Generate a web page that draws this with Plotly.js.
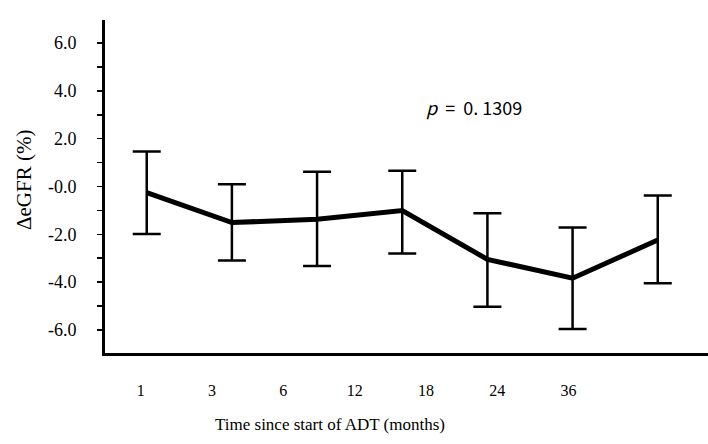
<!DOCTYPE html>
<html>
<head>
<meta charset="utf-8">
<script src="https://cdn.plot.ly/plotly-3.0.1.min.js"></script>
<style>html,body{margin:0;padding:0;background:#fff;}#chart{width:708px;height:444px;}</style>
</head>
<body>
<div id="chart"></div>
<script>
// Data
var months = ["1", "3", "6", "12", "18", "24", "36"];
var meanChange = [-0.26, -1.51, -1.37, -1.01, -3.05, -3.84, -2.24];
var upperBound = [1.46, 0.09, 0.62, 0.66, -1.12, -1.72, -0.38];
var lowerBound = [-1.99, -3.10, -3.33, -2.80, -5.03, -5.97, -4.05];
var yTickVals = [6, 4, 2, 0, -2, -4, -6];
var yTickText = ["6.0", "4.0", "2.0", "-0.0", "-2.0", "-4.0", "-6.0"];
var pText = "<i>p</i>&nbsp;&nbsp;=&nbsp;&nbsp;0. 1309";

var pos = months.map(function (m, i) { return i; });
var errPlus = meanChange.map(function (v, i) { return upperBound[i] - v; });
var errMinus = meanChange.map(function (v, i) { return v - lowerBound[i]; });

var traces = [
  {
    x: pos,
    y: meanChange,
    xaxis: "x2",
    yaxis: "y",
    type: "scatter",
    mode: "markers",
    marker: { opacity: 0 },
    hoverinfo: "skip",
    showlegend: false
  },
  {
    x: pos,
    y: meanChange,
    type: "scatter",
    mode: "lines",
    line: { color: "#000", width: 5 },
    error_y: {
      type: "data",
      symmetric: false,
      array: errPlus,
      arrayminus: errMinus,
      color: "#000",
      thickness: 2.5,
      width: 14
    },
    hoverinfo: "skip",
    showlegend: false
  }
];

var layout = {
  width: 708,
  height: 444,
  margin: { l: 105, r: 0, t: 20, b: 91 },
  paper_bgcolor: "#fff",
  plot_bgcolor: "rgba(0,0,0,0)",
  showlegend: false,
  xaxis: {
    range: [-0.49, 6.59],
    domain: [0, 1],
    showticklabels: false,
    ticks: "",
    showgrid: false,
    zeroline: false,
    showline: true,
    linecolor: "#000",
    linewidth: 3,
    fixedrange: true
  },
  xaxis2: {
    anchor: "y",
    domain: [0, 0.828],
    range: [-0.5, 6.5],
    tickvals: pos,
    ticktext: months,
    showline: false,
    showgrid: false,
    zeroline: false,
    ticks: "",
    ticklabelstandoff: 26,
    tickfont: { family: "Liberation Serif", size: 16, color: "#000" },
    fixedrange: true
  },
  yaxis: {
    range: [-6.97, 6.97],
    tickvals: yTickVals,
    ticktext: yTickText,
    ticks: "outside",
    ticklen: 5,
    tickwidth: 1.5,
    tickcolor: "#000",
    minor: { dtick: 1, ticks: "outside", ticklen: 5, tickwidth: 1.5, tickcolor: "#000" },
    ticklabelstandoff: 17,
    tickfont: { family: "Liberation Serif", size: 18, color: "#000" },
    showgrid: false,
    zeroline: false,
    showline: true,
    linecolor: "#000",
    linewidth: 3,
    fixedrange: true
  },
  annotations: [
    {
      text: "ΔeGFR (%)",
      xref: "paper", yref: "paper",
      x: (24 - 105) / 603, y: (353 - 180) / 333,
      xanchor: "center", yanchor: "middle",
      textangle: -90,
      showarrow: false,
      font: { family: "Liberation Serif", size: 21, color: "#000" }
    },
    {
      text: pText,
      xref: "paper", yref: "paper",
      x: (474 - 105) / 603, y: (353 - 107) / 333,
      xanchor: "center", yanchor: "middle",
      showarrow: false,
      font: { family: "Noto Sans CJK JP", size: 18, color: "#000" }
    },
    {
      text: "Time since start of ADT (months)",
      xref: "paper", yref: "paper",
      x: (330 - 105) / 603, y: (353 - 424) / 333,
      xanchor: "center", yanchor: "middle",
      showarrow: false,
      font: { family: "Liberation Serif", size: 17, color: "#000" }
    }
  ]
};

Plotly.newPlot("chart", traces, layout, { displayModeBar: false, staticPlot: true });
</script>
</body>
</html>
